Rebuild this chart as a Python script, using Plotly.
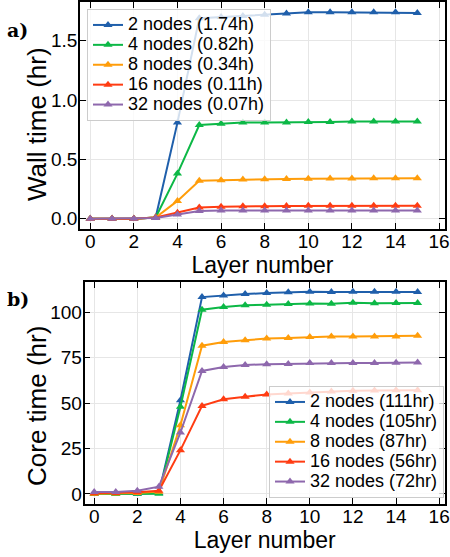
import plotly.graph_objects as go

layers = list(range(16))
labels_nodes = ["2 nodes", "4 nodes", "8 nodes", "16 nodes", "32 nodes"]
wall_totals = ["1.74h", "0.82h", "0.34h", "0.11h", "0.07h"]
core_totals = ["111hr", "105hr", "87hr", "56hr", "72hr"]
colors = ["#1f5fab", "#0cb846", "#ff9d0a", "#ff3c12", "#8e68ad"]

wall_2 = [0, 0, 0, 0.01, 0.81, 1.69, 1.70, 1.71, 1.72, 1.73, 1.74, 1.74, 1.74, 1.74, 1.74, 1.735]
wall_4 = [0, 0, 0, 0.01, 0.38, 0.79, 0.80, 0.81, 0.81, 0.81, 0.815, 0.815, 0.82, 0.82, 0.82, 0.82]
wall_8 = [0, 0, 0, 0.01, 0.15, 0.32, 0.325, 0.33, 0.333, 0.335, 0.337, 0.338, 0.339, 0.34, 0.34, 0.34]
wall_16 = [0, 0, 0, 0.01, 0.05, 0.095, 0.10, 0.105, 0.105, 0.107, 0.108, 0.109, 0.109, 0.11, 0.11, 0.11]
wall_32 = [0, 0, 0, 0.005, 0.035, 0.065, 0.068, 0.069, 0.07, 0.07, 0.07, 0.07, 0.07, 0.07, 0.07, 0.07]

core_2 = [0, 0, 0.1, 0.5, 51.5, 108.2, 109.1, 109.9, 110.4, 110.8, 111.2, 111.0, 111.1, 111.2, 111.2, 111.0]
core_4 = [0, 0, 0.1, 0.1, 48.0, 101.3, 102.7, 103.7, 104.0, 104.4, 104.7, 104.6, 105.1, 104.8, 105.0, 105.0]
core_8 = [0.2, 0.3, 0.5, 1.3, 37.8, 81.5, 83.5, 84.5, 85.4, 85.7, 86.3, 86.5, 86.6, 86.6, 86.6, 87.0]
core_16 = [0.4, 0.5, 0.9, 1.8, 24.1, 48.4, 52.1, 53.4, 54.7, 55.2, 55.8, 56.3, 56.7, 56.9, 57.0, 57.0]
core_32 = [1.1, 1.1, 1.8, 4.0, 33.8, 67.6, 69.8, 70.9, 71.3, 71.5, 72.0, 72.0, 72.0, 72.0, 72.1, 72.2]

wall_series = [wall_2, wall_4, wall_8, wall_16, wall_32]
core_series = [core_2, core_4, core_8, core_16, core_32]

FONT = "Liberation Sans, Arial, sans-serif"
SERIF = "DejaVu Serif, Liberation Serif, serif"


def legend_label(text):
    return f'<span style="font-size:18px">{text}</span>'


fig = go.Figure()
for i in range(5):
    fig.add_trace(go.Scatter(
        x=layers, y=wall_series[i], mode="lines+markers",
        name=legend_label(f"{labels_nodes[i]} ({wall_totals[i]})"),
        line=dict(color=colors[i], width=2),
        marker=dict(symbol="triangle-up", size=8, color=colors[i]),
        xaxis="x", yaxis="y", legend="legend"))
for i in range(5):
    fig.add_trace(go.Scatter(
        x=layers, y=core_series[i], mode="lines+markers",
        name=legend_label(f"{labels_nodes[i]} ({core_totals[i]})"),
        line=dict(color=colors[i], width=2),
        marker=dict(symbol="triangle-up", size=8, color=colors[i]),
        xaxis="x2", yaxis="y2", legend="legend2"))

axis_common = dict(
    showline=True, linecolor="black", linewidth=1.5, mirror="ticks",
    ticks="inside", ticklen=6, tickwidth=1.2, tickcolor="black",
    showgrid=True, gridcolor="#e6e6e6", gridwidth=1, zeroline=False,
    tickfont=dict(family=FONT, size=19, color="black"),
    automargin=False,
)

fig.update_layout(
    width=450, height=557,
    margin=dict(l=0, r=0, t=0, b=0),
    plot_bgcolor="white", paper_bgcolor="white",
    showlegend=True,
    xaxis=dict(domain=[80/450, 445/450], range=[-0.47, 16.27], dtick=2, tick0=0,
               anchor="y", ticklabelstandoff=-6,
               title=dict(text="Layer number", font=dict(family=FONT, size=23, color="black"), standoff=0),
               **axis_common),
    yaxis=dict(domain=[1-229/557, 1-2/557], range=[-0.087, 1.827], dtick=0.5, tick0=0,
               tickformat=".1f", anchor="x", ticklabelstandoff=-3,
               **axis_common),
    xaxis2=dict(domain=[84.5/450, 445/450], range=[-0.45, 16.27], dtick=2, tick0=0,
                anchor="y2", ticklabelstandoff=-6,
                title=dict(text="Layer number", font=dict(family=FONT, size=23, color="black"), standoff=0),
                **axis_common),
    yaxis2=dict(domain=[1-504/557, 1-282/557], range=[-5.5, 116.5], dtick=25, tick0=0,
                anchor="x2", ticklabelstandoff=-3,
                **axis_common),
    legend=dict(x=87/450, xanchor="left", y=1-9/557, yanchor="top",
                bgcolor="rgba(255,255,255,0.8)", bordercolor="#cccccc", borderwidth=1,
                font=dict(family=FONT, size=13, color="black"), tracegroupgap=0),
    legend2=dict(x=444/450, xanchor="right", y=1-498/557, yanchor="bottom",
                 bgcolor="rgba(255,255,255,0.8)", bordercolor="#cccccc", borderwidth=1,
                 font=dict(family=FONT, size=13, color="black"), tracegroupgap=0),
    annotations=[
        dict(text="Wall time (hr)", x=37/450, y=1-124/557, xref="paper", yref="paper",
             textangle=-90, xanchor="center", yanchor="middle", showarrow=False,
             font=dict(family=FONT, size=26, color="black")),
        dict(text="Core time (hr)", x=37/450, y=1-406/557, xref="paper", yref="paper",
             textangle=-90, xanchor="center", yanchor="middle", showarrow=False,
             font=dict(family=FONT, size=26, color="black")),
        dict(text="<b>a)</b>", x=5/450, y=1-30/557, xref="paper", yref="paper",
             xanchor="left", yanchor="middle", showarrow=False,
             font=dict(family=SERIF, size=19, color="black")),
        dict(text="<b>b)</b>", x=5/450, y=1-299/557, xref="paper", yref="paper",
             xanchor="left", yanchor="middle", showarrow=False,
             font=dict(family=SERIF, size=19, color="black")),
    ],
)

fig.write_html("out.html")
